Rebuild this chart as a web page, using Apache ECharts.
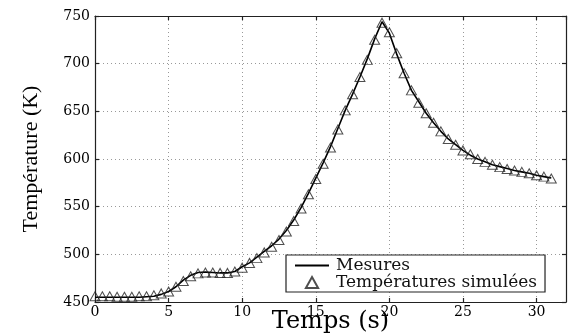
<!DOCTYPE html>
<html>
<head>
<meta charset="utf-8">
<script src="https://cdn.jsdelivr.net/npm/echarts@6/dist/echarts.min.js"></script>
<style>
html, body { margin: 0; padding: 0; background: #fff; }
#main { width: 568px; height: 335px; }
</style>
</head>
<body>
<div id="main"></div>
<script>
// temps (s)
var temps = [0, 0.5, 1, 1.5, 2, 2.5, 3, 3.5, 4, 4.5,
    5, 5.5, 6, 6.5, 7, 7.5, 8, 8.5, 9, 9.5,
    10, 10.5, 11, 11.5, 12, 12.5, 13, 13.5, 14, 14.5,
    15, 15.5, 16, 16.5, 17, 17.5, 18, 18.5, 19, 19.5,
    20, 20.5, 21, 21.5, 22, 22.5, 23, 23.5, 24, 24.5,
    25, 25.5, 26, 26.5, 27, 27.5, 28, 28.5, 29, 29.5,
    30, 30.5, 31];
// mesures (K)
var mesures = [455, 455, 455, 455, 455, 455, 455, 455.5, 456, 458,
    461, 466, 473, 478, 481, 481.5, 481, 480.5, 480.5, 482,
    487, 491, 497, 503, 509, 516, 525, 536, 549, 564,
    580, 596, 613, 632, 651, 668, 686, 705, 726, 744,
    732, 710, 690, 672, 660, 648, 638, 629, 621, 615,
    609, 604, 600, 597, 594, 592, 590, 588, 586.5, 585,
    583, 581.5, 580];
// températures simulées (K)
var simulees = [456, 456, 456, 455.5, 455.5, 455.5, 456, 456, 457, 459,
    461, 466, 472, 477, 480, 481, 481, 480.5, 480.5, 482,
    486, 491, 496, 502, 508, 515, 524, 535, 548, 563,
    579, 595, 612, 631, 651, 668, 686, 704, 725, 743,
    733, 711, 690, 672, 659, 648, 638, 629, 621, 615,
    609, 605, 600, 597, 594, 591.5, 589.5, 588, 586.5, 585,
    583, 581.5, 579.5];

var yTicks = { min: 450, max: 750, interval: 50 };
var xTicks = { min: 0, max: 32, interval: 5 };

function pairs(xs, ys) {
    var out = [];
    for (var i = 0; i < xs.length; i++) {
        out.push([xs[i], ys[i]]);
    }
    return out;
}

var serif = 'DejaVu Serif';
var frame = { show: true, onZero: false, lineStyle: { color: '#222', width: 1.2 } };
var ticksIn = { show: true, inside: true, length: 4, lineStyle: { color: '#222', width: 1.2 } };

var myChart = echarts.init(document.getElementById('main'), null, { renderer: 'canvas' });

var option = {
    animation: false,
    backgroundColor: '#fff',
    grid: { left: 95, top: 16, width: 471, height: 286, containLabel: false, outerBoundsMode: 'none' },
    legend: {
        orient: 'vertical',
        left: 286,
        top: 255,
        padding: [2, 8, 1, 8],
        itemGap: 0,
        itemWidth: 34,
        itemHeight: 11,
        symbolKeepAspect: true,
        backgroundColor: '#fff',
        borderColor: '#222',
        borderWidth: 1.2,
        textStyle: { fontFamily: serif, fontSize: 17, color: '#111', padding: [0, 0, 0, 2] },
        data: [
            { name: 'Mesures', itemStyle: { opacity: 0 } },
            { name: 'Températures simulées', icon: 'path://M5,0 L10,9 L0,9 Z' }
        ]
    },
    xAxis: [{
        type: 'value',
        position: 'bottom',
        min: xTicks.min,
        max: xTicks.max,
        interval: xTicks.interval,
        name: 'Temps (s)',
        nameLocation: 'middle',
        nameGap: 8,
        nameMoveOverlap: false,
        nameTextStyle: { fontFamily: serif, fontSize: 24, color: '#000' },
        axisLine: frame,
        axisTick: ticksIn,
        axisLabel: { fontFamily: serif, fontSize: 14, color: '#000', margin: 3, showMaxLabel: false },
        splitLine: { show: true, lineStyle: { color: '#999', width: 1, type: [1, 3] } }
    }, {
        type: 'value',
        position: 'top',
        min: xTicks.min,
        max: xTicks.max,
        interval: xTicks.interval,
        axisLine: frame,
        axisTick: ticksIn,
        axisLabel: { show: false },
        splitLine: { show: false }
    }],
    yAxis: [{
        type: 'value',
        position: 'left',
        min: yTicks.min,
        max: yTicks.max,
        interval: yTicks.interval,
        name: 'Température (K)',
        nameLocation: 'middle',
        nameGap: 53,
        nameMoveOverlap: false,
        nameTextStyle: { fontFamily: 'Liberation Serif', fontSize: 22, color: '#000' },
        axisLine: frame,
        axisTick: ticksIn,
        axisLabel: { fontFamily: serif, fontSize: 14, color: '#000', margin: 5 },
        splitLine: { show: true, lineStyle: { color: '#999', width: 1, type: [1, 3] } }
    }, {
        type: 'value',
        position: 'right',
        min: yTicks.min,
        max: yTicks.max,
        interval: yTicks.interval,
        axisLine: frame,
        axisTick: ticksIn,
        axisLabel: { show: false },
        splitLine: { show: false }
    }],
    series: [{
        name: 'Mesures',
        type: 'line',
        data: pairs(temps, mesures),
        showSymbol: false,
        symbol: 'none',
        lineStyle: { color: '#000', width: 1.6 },
        itemStyle: { color: '#000' },
        z: 2
    }, {
        name: 'Températures simulées',
        type: 'scatter',
        data: pairs(temps, simulees),
        symbol: 'triangle',
        symbolSize: [10, 9],
        itemStyle: { color: 'rgba(255,255,255,0)', borderColor: '#222', borderWidth: 1 },
        z: 3
    }]
};

myChart.setOption(option);
</script>
</body>
</html>
